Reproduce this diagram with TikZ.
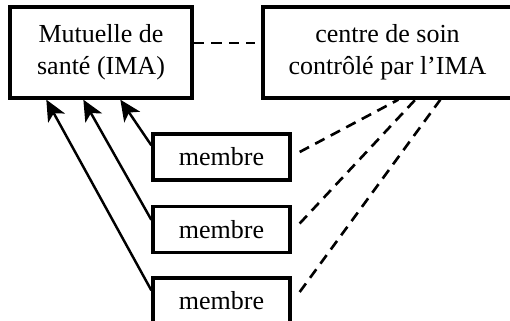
\documentclass[tikz,border=0pt]{standalone}
\usepackage{fontspec}
\setmainfont{Liberation Serif}
\usepackage{tikz}
\usetikzlibrary{arrows.meta}

\begin{document}
\begin{tikzpicture}[
        box/.style={draw=black,line width=1.9pt,align=center,inner sep=0pt,
            font=\fontsize{14.8}{18}\selectfont},
        bigbox/.style={box,minimum height=1.82cm},
        memberbox/.style={box,minimum width=2.74cm,minimum height=0.92cm},
        tie/.style={line width=1.5pt,dash pattern=on 6pt off 4pt},
        adhere/.style={line width=1.4pt,-{Stealth[length=4.2mm,width=3.8mm,inset=1.1mm]}}
    ]
        \useasboundingbox (0,0) rectangle (10.2,-6.42);

        % the two institutions
        \node[bigbox,minimum width=3.64cm] (mut) at (2.02,-1.05) {Mutuelle de\\santé (IMA)};
        \node[bigbox,minimum width=4.98cm] (ctr) at (7.75,-1.05) {centre de soin\\contrôlé par l’IMA};

        % members
        \node[memberbox] (m1) at (4.43,-3.14) {membre};
        \node[memberbox] (m2) at (4.43,-4.59) {membre};
        \node[memberbox] (m3) at (4.43,-6.02) {membre};

        \draw[tie] ([yshift=0.19cm]mut.east) -- ([xshift=-0.12cm,yshift=0.19cm]ctr.west);

        % members join the mutual
        \draw[adhere] ([yshift=-0.26cm]m1.north west) -- ([xshift=2.24cm]mut.south west);
        \draw[adhere] ([yshift=-0.3cm]m2.north west) -- ([xshift=1.5cm]mut.south west);
        \draw[adhere] ([yshift=-0.28cm]m3.north west) -- ([xshift=0.76cm]mut.south west);

        % members use the care centre
        \draw[tie] ([xshift=0.16cm,yshift=0.1cm]m1.east) -- ([xshift=2.74cm]ctr.south west);
        \draw[tie] ([xshift=0.16cm,yshift=0.12cm]m2.east) -- ([xshift=3.08cm]ctr.south west);
        \draw[tie] ([xshift=0.16cm,yshift=0.18cm]m3.east) -- ([xshift=3.58cm]ctr.south west);
    \end{tikzpicture}
\end{document}
